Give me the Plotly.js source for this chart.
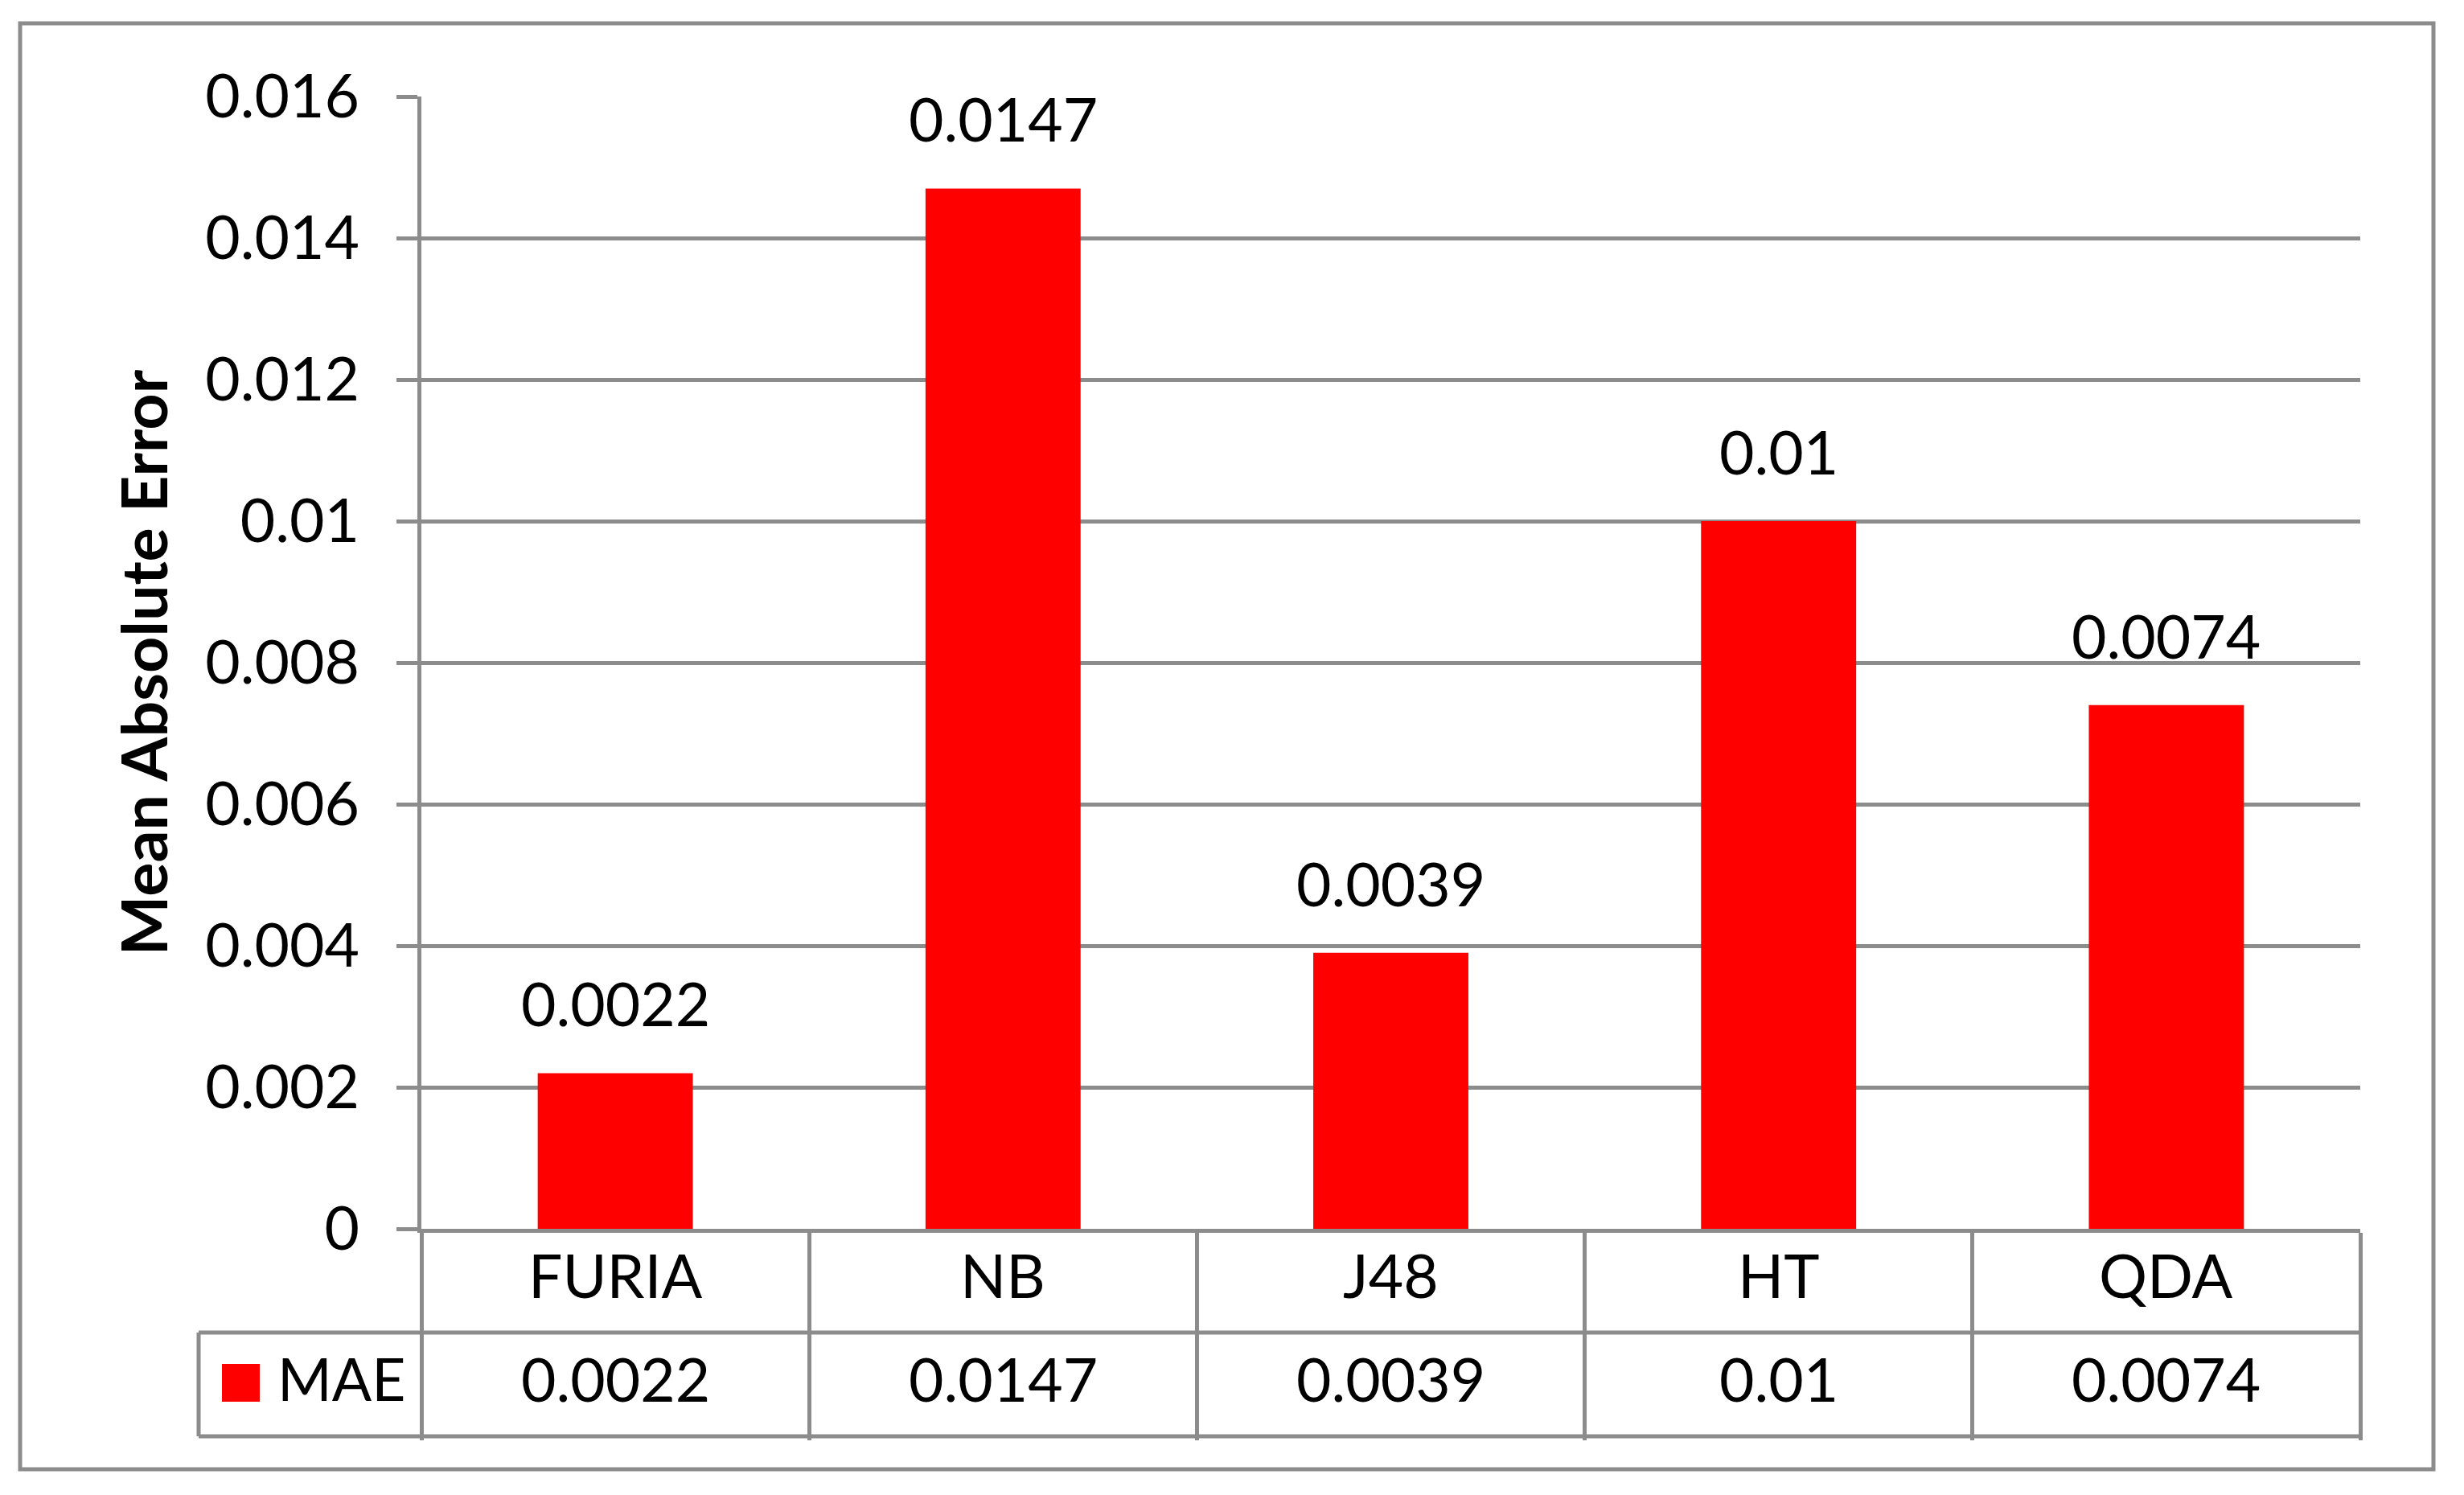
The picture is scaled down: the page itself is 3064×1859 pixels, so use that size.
<!DOCTYPE html>
<html>
<head>
<meta charset="utf-8">
<script src="https://cdn.plot.ly/plotly-3.0.1.min.js"></script>
<style>html,body{margin:0;padding:0;background:#fff;}#chart{width:3064px;height:1859px;}</style>
</head>
<body>
<div id="chart"></div>
<script>
// ---- data ----
const categories = ['FURIA', 'NB', 'J48', 'HT', 'QDA'];
const maeValues = [0.0022, 0.0147, 0.0039, 0.01, 0.0074];
const valueLabels = ['0.0022', '0.0147', '0.0039', '0.01', '0.0074'];
const seriesName = 'MAE';
const yTickVals = [0, 0.002, 0.004, 0.006, 0.008, 0.01, 0.012, 0.014, 0.016];
const yTickText = ['0', '0.002', '0.004', '0.006', '0.008', '0.01', '0.012', '0.014', '0.016'];
const yTitle = 'Mean Absolute Error';

// ---- layout constants ----
const W = 3064, H = 1859;
const M = {l: 524, r: 129, t: 120, b: 331};
const plotW = W - M.l - M.r, plotH = H - M.t - M.b;
const px = x => (x - M.l) / plotW;           // pixel -> paper x
const py = y => (H - M.b - y) / plotH;       // pixel -> paper y
const GRAY = '#8c8c8c';
const RED = '#ff0000';
const FONT = 'Lato, "Open Sans", sans-serif';
const FS = 75;

const rowH = 129;
const axisY = H - M.b;             // 1528
const textLift = 8;
const row1Mid = axisY + rowH / 2 - textLift;
const row2Top = axisY + rowH;
const row2Mid = row2Top + rowH / 2 - textLift;
const row2Bot = row2Top + rowH;
const legendLeft = 247;

const trace = {
  type: 'bar',
  x: categories,
  y: maeValues,
  name: seriesName,
  marker: {color: RED, line: {width: 0}},
  hoverinfo: 'x+y',
  showlegend: false
};

const annotations = [];
categories.forEach((c, i) => {
  annotations.push({x: c, y: maeValues[i], xref: 'x', yref: 'y', text: valueLabels[i],
    showarrow: false, yanchor: 'bottom', yshift: 40, font: {family: FONT, size: FS, color: '#000'}});
  annotations.push({x: c, xref: 'x', yref: 'paper', y: py(row1Mid), text: c,
    showarrow: false, yanchor: 'middle', font: {family: FONT, size: FS, color: '#000'}});
  annotations.push({x: c, xref: 'x', yref: 'paper', y: py(row2Mid), text: valueLabels[i],
    showarrow: false, yanchor: 'middle', font: {family: FONT, size: FS, color: '#000'}});
});
annotations.push({x: px(343), xref: 'paper', xanchor: 'left', y: py(row2Mid), yref: 'paper',
  yanchor: 'middle', text: seriesName, showarrow: false, font: {family: FONT, size: 73, color: '#000'}});

const shapes = [
  // outer chart border
  {type: 'rect', xref: 'paper', yref: 'paper', x0: px(25), x1: px(3026), y0: py(1827), y1: py(29),
   line: {color: GRAY, width: 5}, layer: 'below'},
  // data table horizontal lines
  {type: 'line', xref: 'paper', yref: 'paper', x0: px(legendLeft), x1: 1, y0: py(row2Top), y1: py(row2Top),
   line: {color: GRAY, width: 5}},
  {type: 'line', xref: 'paper', yref: 'paper', x0: px(legendLeft), x1: 1, y0: py(row2Bot), y1: py(row2Bot),
   line: {color: GRAY, width: 5}},
  {type: 'line', xref: 'paper', yref: 'paper', x0: px(legendLeft), x1: px(legendLeft), y0: py(row2Top), y1: py(row2Bot),
   line: {color: GRAY, width: 5}},
  // legend key
  {type: 'rect', xref: 'paper', yref: 'paper', x0: px(276), x1: px(323), y0: py(1743), y1: py(1696),
   fillcolor: RED, line: {width: 0}}
];

const layout = {
  width: W, height: H,
  margin: {l: M.l, r: M.r, t: M.t, b: M.b, pad: 0},
  paper_bgcolor: '#fff', plot_bgcolor: '#fff',
  font: {family: FONT, size: FS, color: '#000'},
  bargap: 0.6,
  showlegend: false,
  xaxis: {
    type: 'category', range: [-0.5, 4.5], fixedrange: true,
    tickson: 'boundaries', ticks: 'outside', ticklen: 2 * rowH, tickwidth: 5, tickcolor: GRAY,
    showline: true, linecolor: GRAY, linewidth: 5, showgrid: false, showticklabels: false, zeroline: false
  },
  yaxis: {
    range: [0, 0.016], fixedrange: true,
    tickmode: 'array', tickvals: yTickVals, ticktext: yTickText,
    ticks: 'outside', ticklen: 26, tickwidth: 5, tickcolor: GRAY,
    showline: true, linecolor: GRAY, linewidth: 5,
    showgrid: true, gridcolor: GRAY, gridwidth: 5, zeroline: false,
    ticklabelstandoff: 31,
    tickfont: {family: FONT, size: FS, color: '#000'},
    title: {text: '<b>' + yTitle + '</b>', standoff: 22, font: {family: FONT, size: 79, color: '#000'}}
  },
  annotations: annotations,
  shapes: shapes
};

Plotly.newPlot('chart', [trace], layout, {displayModeBar: false, staticPlot: true});
</script>
</body>
</html>
